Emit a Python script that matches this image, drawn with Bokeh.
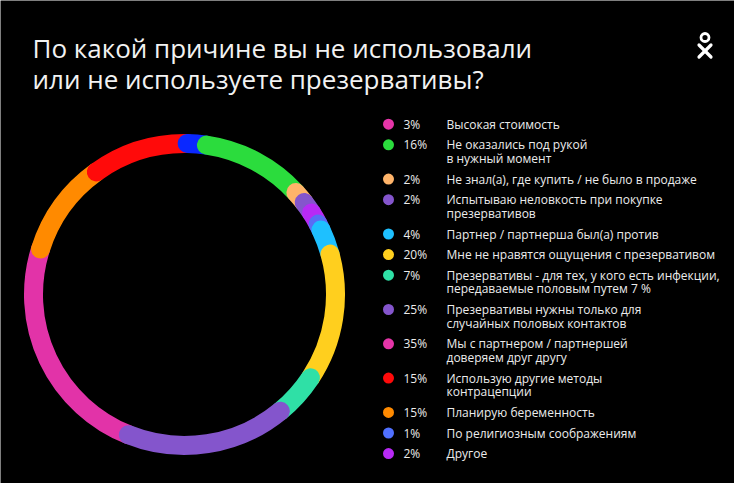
import numpy as np
from bokeh.plotting import figure
from bokeh.models import Range1d, ColumnDataSource
from bokeh.core.properties import value
from bokeh.embed import file_html
from bokeh.resources import INLINE

# ---------------- data ----------------
title_lines = ["По какой причине вы не использовали",
               "или не используете презервативы?"]

legend_pct = ["3%", "16%", "2%", "2%", "4%", "20%", "7%", "25%", "35%",
              "15%", "15%", "1%", "2%"]
legend_labels = [
    "Высокая стоимость",
    "Не оказались под рукой\nв нужный момент",
    "Не знал(а), где купить / не было в продаже",
    "Испытываю неловкость при покупке\nпрезервативов",
    "Партнер / партнерша был(а) против",
    "Мне не нравятся ощущения с презервативом",
    "Презервативы - для тех, у кого есть инфекции,\nпередаваемые половым путем 7 %",
    "Презервативы нужны только для\nслучайных половых контактов",
    "Мы с партнером / партнершей\nдоверяем друг другу",
    "Использую другие методы\nконтрацепции",
    "Планирую беременность",
    "По религиозным соображениям",
    "Другое",
]
legend_colors = ["#e535a8", "#2bdc3d", "#ffb46a", "#8455cc", "#1ec0ff", "#ffcf1e",
                 "#2fe0a6", "#8455cc", "#e535a8", "#ff0a0a", "#ff8a00", "#5070ff",
                 "#b82af5"]

# ring segments, clockwise from 12 o'clock, as drawn in the picture
ring_values = [3, 16, 2, 2, 2, 1, 4, 20, 7, 25, 35, 15, 15]
ring_colors = ["#0a28ff", "#2bdc3d", "#ffb46a", "#8455cc", "#b82af5", "#5a6cf5",
               "#1ec0ff", "#ffcf1e", "#2fe0a6", "#8455cc", "#e233a8", "#ff8a00",
               "#ff0a0a"]

# ---------------- figure ----------------
W, H = 734, 483
p = figure(width=W, height=H, x_range=Range1d(8, 8 + W), y_range=Range1d(8, 8 + H),
           output_backend="svg", toolbar_location=None, min_border=0,
           x_axis_type=None, y_axis_type=None,
           background_fill_color="#000000", border_fill_color="#000000")
p.grid.visible = False
p.outline_line_color = None

def sy(y):
    return 499 - y

FONT = value("Open Sans")
TXT = "#ececec"

# title
p.text(x=[40, 40], y=[sy(55), sy(86)], text=title_lines, text_font=FONT,
       text_font_size="26px", text_color="#f2f2f2", text_baseline="alphabetic")

# OK logo
p.circle(x=[712.5], y=[sy(45)], radius=4.0, fill_color=None, line_color="#ffffff",
         line_width=2.8)
p.segment(x0=[706.5, 718.5], y0=[sy(52.5), sy(52.5)], x1=[718.5, 706.5], y1=[sy(64.5), sy(64.5)],
          line_color="#ffffff", line_width=3.2, line_cap="round")

# ring
cx, cy, r, lw = 192, sy(302), 151, 19
vals = np.array(ring_values, dtype=float)
deg = vals / vals.sum() * 360.0
ends = np.cumsum(deg) + 1.0
starts = ends - deg
k = int(np.argmax(vals))
order = list(range(k, len(vals))) + list(range(0, k))
src = ColumnDataSource(dict(
    x=[cx] * len(order), y=[cy] * len(order),
    s=[np.deg2rad(90 - starts[i]) for i in order],
    e=[np.deg2rad(90 - ends[i]) for i in order],
    c=[ring_colors[i] for i in order],
))
p.arc(x="x", y="y", radius=r, start_angle="s", end_angle="e", direction="clock",
      line_width=lw, line_color="c", line_cap="round", source=src)

# legend
row_y = []
y = 131.7
for lab in legend_labels:
    row_y.append(y)
    y += 20.6 + 13.7 * (lab.count("\n"))

p.scatter(x=[396] * len(row_y), y=[sy(v) for v in row_y], size=11,
          fill_color=legend_colors, line_color=None)
p.text(x=[411] * len(row_y), y=[sy(v) for v in row_y], text=legend_pct, text_font=FONT,
       text_font_size="12px", text_color=TXT, text_baseline="middle")

lx, ly, lt = [], [], []
for yy, lab in zip(row_y, legend_labels):
    for j, line in enumerate(lab.split("\n")):
        lx.append(454)
        ly.append(sy(yy + 13.7 * j))
        lt.append(line)
p.text(x=lx, y=ly, text=lt, text_font=FONT, text_font_size="12px", text_color=TXT,
       text_baseline="middle")

html = file_html(p, INLINE)
html = html.replace("<body>", '<body style="background:#000000;">', 1)
open("out.html", "w").write(html)
